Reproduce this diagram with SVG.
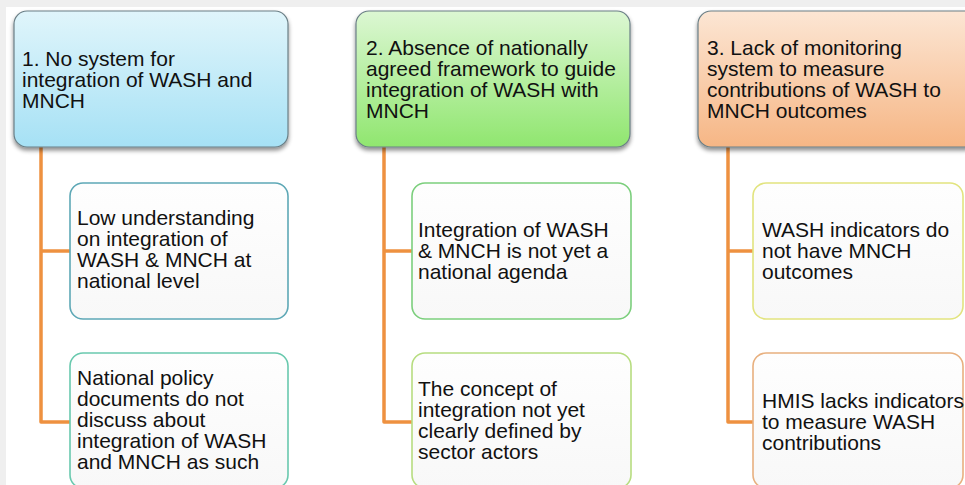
<svg xmlns="http://www.w3.org/2000/svg" width="965" height="485" viewBox="0 0 965 485">
  <defs>
    <linearGradient id="gBlue" x1="0" y1="0" x2="0" y2="1">
      <stop offset="0" stop-color="#e0f5fb"/>
      <stop offset="1" stop-color="#a6e1f5"/>
    </linearGradient>
    <linearGradient id="gGreen" x1="0" y1="0" x2="0" y2="1">
      <stop offset="0" stop-color="#dcf7d3"/>
      <stop offset="1" stop-color="#90e66f"/>
    </linearGradient>
    <linearGradient id="gOrange" x1="0" y1="0" x2="0" y2="1">
      <stop offset="0" stop-color="#fce6d4"/>
      <stop offset="1" stop-color="#f6b685"/>
    </linearGradient>
    <linearGradient id="gChild" x1="0" y1="0" x2="0" y2="1">
      <stop offset="0" stop-color="#fefefe"/>
      <stop offset="1" stop-color="#f8f8f8"/>
    </linearGradient>
    <filter id="shadow" x="-10%" y="-10%" width="120%" height="125%">
      <feDropShadow dx="0" dy="3" stdDeviation="2" flood-color="#000" flood-opacity="0.45"/>
    </filter>
  </defs>
  <style>
    .head { stroke: #6b7f86; stroke-width: 1.2; filter: url(#shadow); }
    .child { fill: url(#gChild); stroke-width: 1.6; }
    .conn { fill: none; stroke: #ee9140; stroke-width: 3.5; stroke-linejoin: round; }
    text { font-family: "Liberation Sans", Arial, sans-serif; font-size: 21px; fill: #111; }
  </style>

  <rect x="0" y="0" width="965" height="485" fill="#ffffff"/>
  <rect x="0" y="0" width="965" height="7" fill="#efefef"/>
  <rect x="0" y="0" width="6" height="485" fill="#efefef"/>

  <g id="connectors">
    <path class="conn" d="M41 147 V422 H70 M41 251 H70"/>
    <path class="conn" d="M384 147 V422 H412 M384 251 H412"/>
    <path class="conn" d="M728 147 V422 H753 M728 251 H753"/>
  </g>

  <g id="head1">
    <rect class="head" x="14" y="11" width="274" height="136" rx="13" fill="url(#gBlue)"/>
    <text x="22" y="66">1. No system for</text>
    <text x="22" y="87">integration of WASH and</text>
    <text x="22" y="108">MNCH</text>
  </g>
  <g id="head2">
    <rect class="head" x="356" y="11" width="274" height="136" rx="13" fill="url(#gGreen)"/>
    <text x="366" y="55">2. Absence of nationally</text>
    <text x="366" y="76">agreed framework to guide</text>
    <text x="366" y="97">integration of WASH with</text>
    <text x="366" y="118">MNCH</text>
  </g>
  <g id="head3">
    <rect class="head" x="698" y="11" width="280" height="136" rx="13" fill="url(#gOrange)"/>
    <text x="707" y="55">3. Lack of monitoring</text>
    <text x="707" y="76">system to measure</text>
    <text x="707" y="97">contributions of WASH to</text>
    <text x="707" y="118">MNCH outcomes</text>
  </g>

  <g id="child1a">
    <rect class="child" x="70" y="183" width="218" height="136" rx="13" stroke="#5ea8b6"/>
    <text x="77" y="225">Low understanding</text>
    <text x="77" y="246">on integration of</text>
    <text x="77" y="267">WASH &amp; MNCH at</text>
    <text x="77" y="288">national level</text>
  </g>
  <g id="child1b">
    <rect class="child" x="70" y="353" width="218" height="135" rx="13" stroke="#69c9ae"/>
    <text x="77" y="385">National policy</text>
    <text x="77" y="406">documents do not</text>
    <text x="77" y="427">discuss about</text>
    <text x="77" y="448">integration of WASH</text>
    <text x="77" y="469">and MNCH as such</text>
  </g>

  <g id="child2a">
    <rect class="child" x="412" y="183" width="219" height="136" rx="13" stroke="#7ccf7d"/>
    <text x="418" y="237">Integration of WASH</text>
    <text x="418" y="258">&amp; MNCH is not yet a</text>
    <text x="418" y="279">national agenda</text>
  </g>
  <g id="child2b">
    <rect class="child" x="412" y="353" width="219" height="135" rx="13" stroke="#b7dd80"/>
    <text x="418" y="396">The concept of</text>
    <text x="418" y="417">integration not yet</text>
    <text x="418" y="438">clearly defined by</text>
    <text x="418" y="459">sector actors</text>
  </g>

  <g id="child3a">
    <rect class="child" x="753" y="183" width="210" height="136" rx="13" stroke="#e2e47f"/>
    <text x="762" y="237">WASH indicators do</text>
    <text x="762" y="258">not have MNCH</text>
    <text x="762" y="279">outcomes</text>
  </g>
  <g id="child3b">
    <rect class="child" x="753" y="353" width="210" height="135" rx="13" stroke="#e8b07f"/>
    <text x="762" y="408">HMIS lacks indicators</text>
    <text x="762" y="429">to measure WASH</text>
    <text x="762" y="450">contributions</text>
  </g>
</svg>
